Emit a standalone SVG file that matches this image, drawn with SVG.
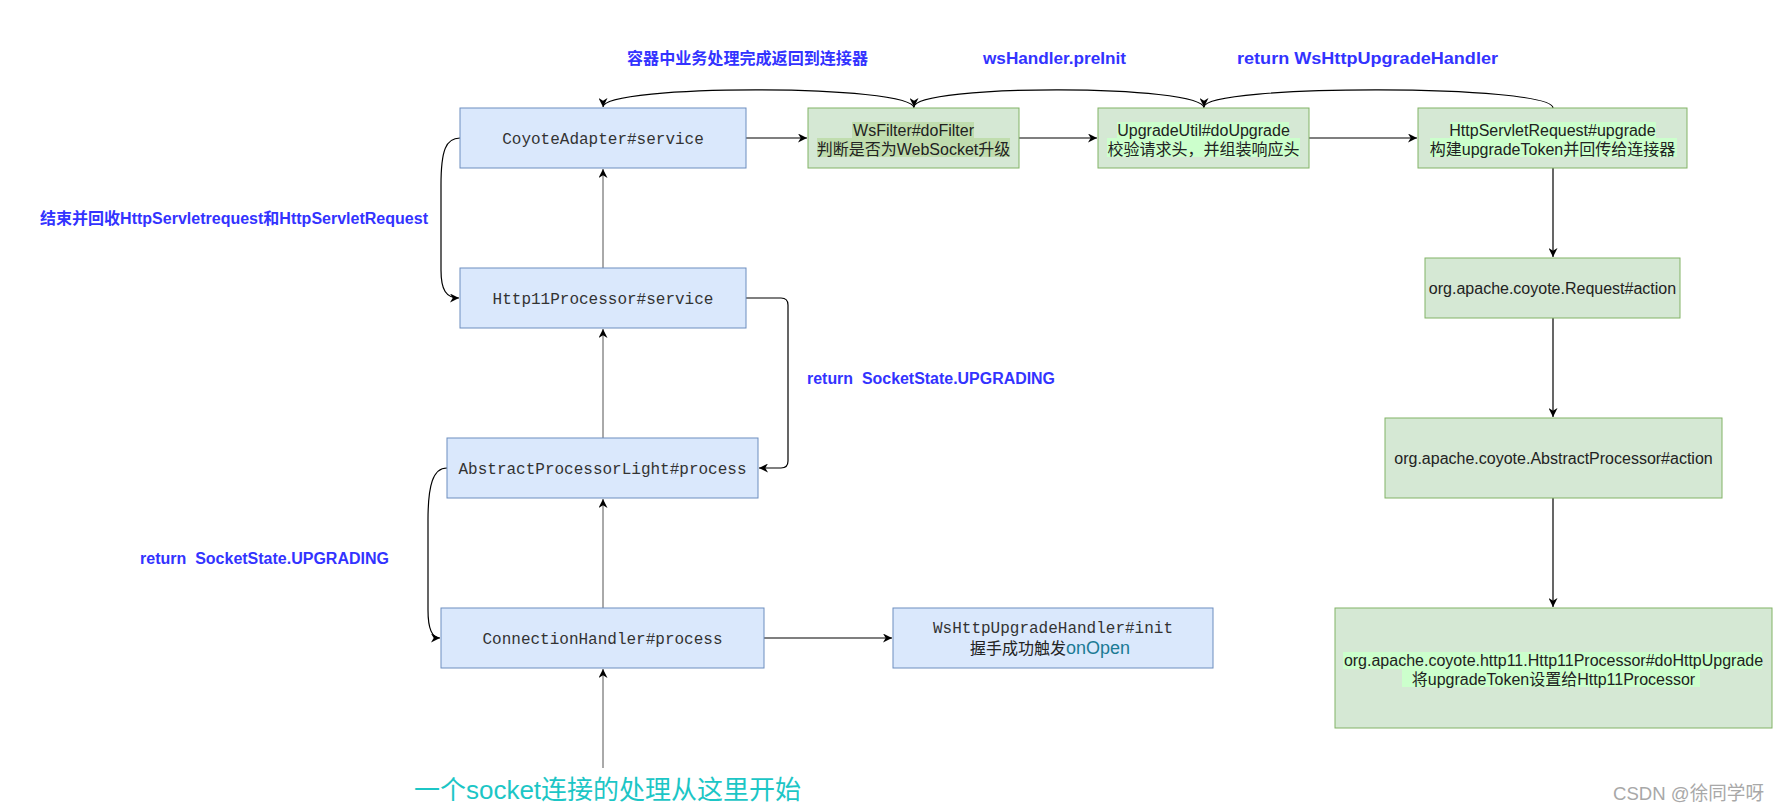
<svg xmlns="http://www.w3.org/2000/svg" width="1779" height="811" viewBox="0 0 1779 811">
<style>
.blue{fill:#dae8fc;stroke:#6c8ebf;stroke-width:1}
.green{fill:#d5e8d4;stroke:#82b366;stroke-width:1}
.mono{font-family:"Liberation Mono","DejaVu Sans Mono",monospace;font-size:16px;fill:#333;text-anchor:middle}
.sans{font-family:"Liberation Sans","Noto Sans CJK SC",sans-serif;font-size:16px;fill:#222;text-anchor:middle}
.lbl{font-family:"Liberation Sans","Noto Sans CJK SC",sans-serif;font-size:16px;font-weight:bold;fill:#3333ff}
.hl1{fill:#c0ddae}
.hl2{fill:#ccffcc}
.edge{fill:none;stroke:#000;stroke-width:1.2}
.vedge{fill:none;stroke:#555;stroke-width:1}
</style>
<defs>
<marker id="arr" viewBox="0 0 10 10" refX="10" refY="5" markerWidth="9" markerHeight="9" markerUnits="userSpaceOnUse" orient="auto">
<path d="M0,0 L10,5 L0,10 L3,5 z" fill="#000"/>
</marker>
</defs>
<rect width="1779" height="811" fill="#fff"/>

<g id="connectors">
<path class="edge" d="M746 138 L807 138" marker-end="url(#arr)"/>
<path class="edge" d="M1019 138 L1097 138" marker-end="url(#arr)"/>
<path class="edge" d="M1309 138 L1417 138" marker-end="url(#arr)"/>
<path class="edge" d="M1553 168 L1553 257" marker-end="url(#arr)"/>
<path class="edge" d="M1553 318 L1553 417" marker-end="url(#arr)"/>
<path class="edge" d="M1553 498 L1553 607" marker-end="url(#arr)"/>
<path class="edge" d="M764 638 L892 638" marker-end="url(#arr)"/>
<path class="vedge" d="M603 268 L603 169" marker-end="url(#arr)"/>
<path class="vedge" d="M603 438 L603 329" marker-end="url(#arr)"/>
<path class="vedge" d="M603 608 L603 499" marker-end="url(#arr)"/>
<path class="vedge" d="M603 768 L603 669" marker-end="url(#arr)"/>
<path class="edge" d="M1553 108 C1553 84 1204 84 1204 107" marker-end="url(#arr)"/>
<path class="edge" d="M1204 108 C1204 84 914 84 914 107" marker-end="url(#arr)"/>
<path class="edge" d="M914 108 C914 84 603 84 603 107" marker-end="url(#arr)"/>
<path class="edge" d="M460 138 C446 138 441 150 441 185 L441 270 C441 290 446 298 459 298" marker-end="url(#arr)"/>
<path class="edge" d="M447 468 C433 468 428 485 428 520 L428 610 C428 630 432 638 440 638" marker-end="url(#arr)"/>
<path class="edge" d="M746 298 L781 298 Q788 298 788 305 L788 461 Q788 468 781 468 L759 468" marker-end="url(#arr)"/>
</g>

<g id="labels">
<text class="lbl" x="627" y="64" textLength="241" lengthAdjust="spacingAndGlyphs">容器中业务处理完成返回到连接器</text>
<text class="lbl" x="983" y="64" style="font-size:17px" textLength="143" lengthAdjust="spacingAndGlyphs">wsHandler.preInit</text>
<text class="lbl" x="1237" y="64" style="font-size:17px" textLength="261" lengthAdjust="spacingAndGlyphs">return WsHttpUpgradeHandler</text>
<text class="lbl" x="40" y="224" textLength="388" lengthAdjust="spacingAndGlyphs">结束并回收HttpServletrequest和HttpServletRequest</text>
<text class="lbl" x="807" y="384" textLength="248" lengthAdjust="spacingAndGlyphs" xml:space="preserve">return  SocketState.UPGRADING</text>
<text class="lbl" x="140" y="564" textLength="249" lengthAdjust="spacingAndGlyphs" xml:space="preserve">return  SocketState.UPGRADING</text>
<text x="414" y="799" style="font-family:'Liberation Sans','Noto Sans CJK SC',sans-serif;font-size:26px;fill:#1cc6c6" textLength="387" lengthAdjust="spacingAndGlyphs">一个socket连接的处理从这里开始</text>
<text x="1613" y="800" style="font-family:'Liberation Sans','Noto Sans CJK SC',sans-serif;font-size:19px;fill:#a8a8a8" textLength="151" lengthAdjust="spacingAndGlyphs">CSDN @徐同学呀</text>
</g>

<g id="coyoteAdapter">
<rect class="blue" x="460" y="108" width="286" height="60"/>
<text class="mono" x="603" y="144">CoyoteAdapter#service</text>
</g>
<g id="http11ProcessorService">
<rect class="blue" x="460" y="268" width="286" height="60"/>
<text class="mono" x="603" y="304">Http11Processor#service</text>
</g>
<g id="abstractProcessorLight">
<rect class="blue" x="447" y="438" width="311" height="60"/>
<text class="mono" x="602.5" y="474">AbstractProcessorLight#process</text>
</g>
<g id="connectionHandler">
<rect class="blue" x="441" y="608" width="323" height="60"/>
<text class="mono" x="602.5" y="644">ConnectionHandler#process</text>
</g>
<g id="wsHttpUpgradeHandler">
<rect class="blue" x="893" y="608" width="320" height="60"/>
<text class="mono" x="1053" y="633">WsHttpUpgradeHandler#init</text>
<text x="970" y="654" style="font-family:'Liberation Sans','Noto Sans CJK SC',sans-serif;font-size:16px;fill:#222">握手成功触发<tspan style="font-size:18px;fill:#1b7a94">onOpen</tspan></text>
</g>
<g id="wsFilter">
<rect class="green" x="808" y="108" width="211" height="60"/>
<rect class="hl1" x="852" y="122" width="122" height="16"/>
<rect class="hl1" x="817" y="138" width="193" height="19"/>
<text class="sans" x="913.5" y="136">WsFilter#doFilter</text>
<text class="sans" x="913.5" y="155">判断是否为WebSocket升级</text>
</g>
<g id="upgradeUtil">
<rect class="green" x="1098" y="108" width="211" height="60"/>
<rect class="hl2" x="1117" y="122" width="172" height="16"/>
<rect class="hl2" x="1107" y="138" width="193" height="19"/>
<text class="sans" x="1203.5" y="136">UpgradeUtil#doUpgrade</text>
<text class="sans" x="1203.5" y="155">校验请求头，并组装响应头</text>
</g>
<g id="httpServletRequest">
<rect class="green" x="1418" y="108" width="269" height="60"/>
<rect class="hl2" x="1450" y="122" width="206" height="16"/>
<rect class="hl2" x="1430" y="138" width="247" height="19"/>
<text class="sans" x="1552.5" y="136">HttpServletRequest#upgrade</text>
<text class="sans" x="1552.5" y="155">构建upgradeToken并回传给连接器</text>
</g>
<g id="requestAction">
<rect class="green" x="1425" y="258" width="255" height="60"/>
<text class="sans" x="1552.5" y="294">org.apache.coyote.Request#action</text>
</g>
<g id="abstractProcessorAction">
<rect class="green" x="1385" y="418" width="337" height="80"/>
<text class="sans" x="1553.5" y="464">org.apache.coyote.AbstractProcessor#action</text>
</g>
<g id="doHttpUpgrade">
<rect class="green" x="1335" y="608" width="437" height="120"/>
<rect class="hl2" x="1343" y="652" width="419" height="17"/>
<rect class="hl2" x="1402" y="669" width="298" height="18"/>
<text class="sans" x="1553.5" y="666">org.apache.coyote.http11.Http11Processor#doHttpUpgrade</text>
<text class="sans" x="1553.5" y="685">将upgradeToken设置给Http11Processor</text>
</g>
</svg>
